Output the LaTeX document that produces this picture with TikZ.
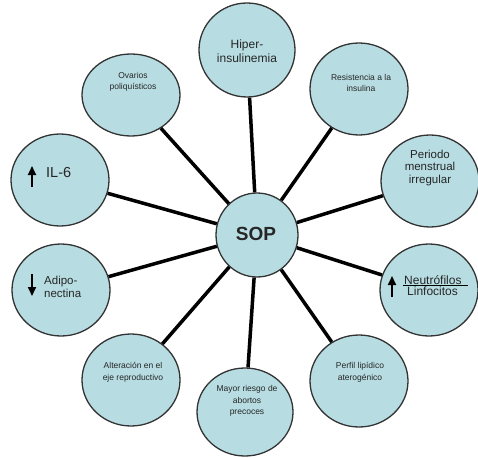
\documentclass[tikz,border=0pt]{standalone}
\usepackage{fontspec}
\setmainfont{Liberation Sans}
\usetikzlibrary{shapes.geometric,arrows.meta}
\definecolor{bubble}{RGB}{183,221,226}

\begin{document}
\begin{tikzpicture}[x=1pt,y=-1pt,
    bub/.style={ellipse,draw=black!80,line width=1.3pt,fill=bubble,inner sep=0pt,
                minimum width=98,minimum height=92},
    link/.style={line width=3.5pt},
    tsmall/.style={inner sep=0pt,align=center,text=black!85,font=\fontsize{8.5}{11.5}\selectfont},
    tmid/.style={inner sep=0pt,align=center,text=black!85,font=\fontsize{11.5}{12.5}\selectfont},
    tbig/.style={inner sep=0pt,align=left,text=black!85,font=\fontsize{12}{13}\selectfont},
    updown/.style={line width=1.8pt,-{Triangle[width=8pt,length=9pt]}}]

  \useasboundingbox (0,0) rectangle (478,457);

  % bubbles
  \node[bub,minimum width=82,minimum height=84] (sop) at (257,235) {};
  \node[bub,minimum width=96,minimum height=94] (hip) at (247,50) {};
  \node[bub,minimum height=82] (ova) at (131,95) {};
  \node[bub] (res) at (359,89) {};
  \node[bub] (per) at (430,181) {};
  \node[bub] (il6) at (60,180) {};
  \node[bub] (adi) at (61,290) {};
  \node[bub] (neu) at (429,290) {};
  \node[bub] (alt) at (131,380) {};
  \node[bub] (lip) at (359,381) {};
  \node[bub,minimum width=96,minimum height=88] (may) at (245,412) {};

  % spokes
  \draw[link] (sop) -- (hip);
  \draw[link] (sop) -- (ova);
  \draw[link] (sop) -- (res);
  \draw[link] (sop) -- (per);
  \draw[link] (sop) -- (il6);
  \draw[link] (sop) -- (adi);
  \draw[link] (sop) -- (neu);
  \draw[link] (sop) -- (alt);
  \draw[link] (sop) -- (lip);
  \draw[link] (sop) -- (may);

  % texts
  \node[font=\fontsize{19}{20}\selectfont\bfseries,text=black!85] (sop-t) at (256,234) {SOP};
  \node[tmid,font=\fontsize{12}{14}\selectfont] (hip-t) at (247,51) {Hiper-\\insulinemia};
  \node[tsmall] (ova-t) at (133,82) {Ovarios\\poliquísticos};
  \node[tsmall] (res-t) at (361,83) {Resistencia a la\\insulina};
  \node[tmid] (per-t) at (430,168) {Periodo\\menstrual\\irregular};
  \node[inner sep=0pt,anchor=west,text=black!85,font=\fontsize{14.5}{15}\selectfont] (il6-t) at (46,173) {IL-6};
  \node[tmid,align=left,anchor=west] (adi-t) at (44,287) {Adipo-\\nectina};
  \node[tbig,anchor=west] (neu-a) at (404,280) {Neutrófilos};
  \node[tbig,anchor=west] (neu-b) at (407,291) {Linfocitos};
  \node[tsmall] (alt-t) at (133,372) {Alteración en el\\eje reproductivo};
  \node[tsmall] (lip-t) at (360,372) {Perfil lipídico\\aterogénico};
  \node[tsmall] (may-t) at (247,401) {Mayor riesgo de\\abortos\\precoces};

  % arrows and bar
  \draw[updown] (32,187) -- (32,166);
  \draw[updown] (32,274) -- (32,296);
  \draw[updown] (392,297) -- (392,276);
  \draw[line width=0.8pt] (403,285) -- (468,285);

\end{tikzpicture}
\end{document}
